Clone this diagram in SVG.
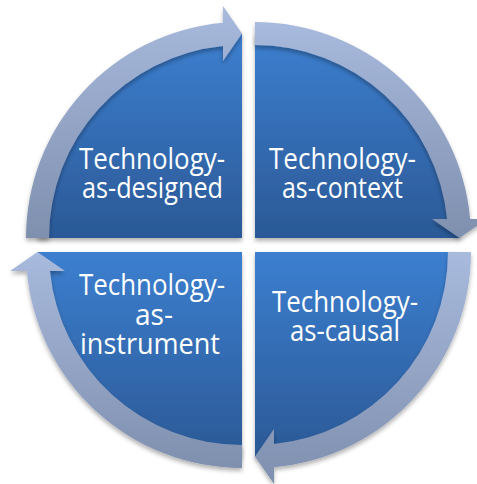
<svg xmlns="http://www.w3.org/2000/svg" width="477" height="484" viewBox="0 0 477 484">
  <defs>
    <linearGradient id="blue" x1="0" y1="0" x2="0" y2="1">
      <stop offset="0" stop-color="#3c7fd0"/>
      <stop offset="1" stop-color="#2b5996"/>
    </linearGradient>
    <linearGradient id="ring" x1="0" y1="0" x2="0" y2="1">
      <stop offset="0" stop-color="#a8badd"/>
      <stop offset="1" stop-color="#7f8fae"/>
    </linearGradient>
    <filter id="shadow" x="-10%" y="-10%" width="120%" height="125%">
      <feDropShadow dx="0" dy="3" stdDeviation="2" flood-color="#000" flood-opacity="0.3"/>
    </filter>
  </defs>
  <style>
    .pie { fill: url(#blue); filter: url(#shadow); }
    .arrow { fill: url(#ring); filter: url(#shadow); }
    .label { font-family: "Open Sans", "Noto Sans", sans-serif; font-size: 29px; fill: #ffffff; text-anchor: middle; }
  </style>

  <g id="node-designed">
    <path class="pie" d="M242 238 L37.5 238 A204.5 204.5 0 0 1 242 33.5 Z"/>
    <text class="label"><tspan x="152" y="168.5" textLength="146" lengthAdjust="spacingAndGlyphs">Technology-</tspan><tspan x="152.5" y="198" textLength="141" lengthAdjust="spacingAndGlyphs">as-designed</tspan></text>
  </g>
  <g id="node-context">
    <path class="pie" d="M255 238 L255 33.5 A204.5 204.5 0 0 1 459.5 238 Z"/>
    <text class="label"><tspan x="342.5" y="168.5" textLength="147" lengthAdjust="spacingAndGlyphs">Technology-</tspan><tspan x="342.5" y="198" textLength="121" lengthAdjust="spacingAndGlyphs">as-context</tspan></text>
  </g>
  <g id="node-instrument">
    <path class="pie" d="M242 252 L242 456.5 A204.5 204.5 0 0 1 37.5 252 Z"/>
    <text class="label"><tspan x="152" y="295" textLength="146" lengthAdjust="spacingAndGlyphs">Technology-</tspan><tspan x="154" y="324.5" textLength="38" lengthAdjust="spacingAndGlyphs">as-</tspan><tspan x="150" y="354" textLength="140" lengthAdjust="spacingAndGlyphs">instrument</tspan></text>
  </g>
  <g id="node-causal">
    <path class="pie" d="M255 252 L459.5 252 A204.5 204.5 0 0 1 255 456.5 Z"/>
    <text class="label"><tspan x="345" y="311.5" textLength="146" lengthAdjust="spacingAndGlyphs">Technology-</tspan><tspan x="345" y="341" textLength="110" lengthAdjust="spacingAndGlyphs">as-causal</tspan></text>
  </g>

  <g id="connectors">
    <path class="arrow" d="M26 238 A216 216 0 0 1 223 22.84 L223 6 L242 33.5 L223 61 L223 45.94 A193 193 0 0 0 49 238 Z"/>
    <path class="arrow" d="M255 22 A216 216 0 0 1 470.16 219 L487 219 L459.5 238 L432 219 L447.06 219 A193 193 0 0 0 255 45 Z"/>
    <path class="arrow" d="M471 252 A216 216 0 0 1 274 467.16 L274 484 L255 456.5 L274 429 L274 444.06 A193 193 0 0 0 448 252 Z"/>
    <path class="arrow" d="M242 468 A216 216 0 0 1 26.84 271 L10 271 L37.5 252 L65 271 L49.94 271 A193 193 0 0 0 242 445 Z"/>
  </g>
</svg>
